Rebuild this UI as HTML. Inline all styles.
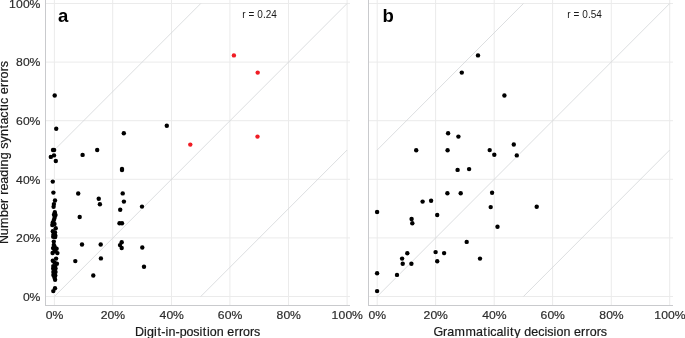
<!DOCTYPE html>
<html><head><meta charset="utf-8"><style>
html,body{margin:0;padding:0;background:#fff;width:685px;height:338px;overflow:hidden}
svg{display:block;position:absolute;left:0;top:0}
.ov{will-change:transform}
text{font-family:"Liberation Sans",sans-serif}
.t{font-size:11.6px;fill:#2b2b2b;stroke:#2b2b2b;stroke-width:0.18px}
.ti{font-size:12px;fill:#1a1a1a;stroke:#1a1a1a;stroke-width:0.2px}
.pl{font-size:18.5px;font-weight:bold;fill:#000}
.r{font-size:10px;fill:#1a1a1a}
</style></head><body>
<svg width="685" height="338" viewBox="0 0 685 338">
<rect width="685" height="338" fill="#fff"/>
<clipPath id="ca"><rect x="45" y="0" width="305" height="305.5"/></clipPath>
<g clip-path="url(#ca)">
<line x1="45" x2="350" y1="296.5" y2="296.5" stroke="#ebebeb" stroke-width="1"/>
<line x1="45" x2="350" y1="237.9" y2="237.9" stroke="#ebebeb" stroke-width="1"/>
<line x1="45" x2="350" y1="179.3" y2="179.3" stroke="#ebebeb" stroke-width="1"/>
<line x1="45" x2="350" y1="120.7" y2="120.7" stroke="#ebebeb" stroke-width="1"/>
<line x1="45" x2="350" y1="62.1" y2="62.1" stroke="#ebebeb" stroke-width="1"/>
<line x1="45" x2="350" y1="3.5" y2="3.5" stroke="#ebebeb" stroke-width="1"/>
<line x1="54.4" x2="54.4" y1="0" y2="305.5" stroke="#ebebeb" stroke-width="1"/>
<line x1="112.7" x2="112.7" y1="0" y2="305.5" stroke="#ebebeb" stroke-width="1"/>
<line x1="171.5" x2="171.5" y1="0" y2="305.5" stroke="#ebebeb" stroke-width="1"/>
<line x1="229.9" x2="229.9" y1="0" y2="305.5" stroke="#ebebeb" stroke-width="1"/>
<line x1="288.5" x2="288.5" y1="0" y2="305.5" stroke="#ebebeb" stroke-width="1"/>
<line x1="347.1" x2="347.1" y1="0" y2="305.5" stroke="#ebebeb" stroke-width="1"/>
<line x1="54.4" y1="150" x2="200.75" y2="3.5" stroke="#d3d5d8" stroke-width="0.8"/>
<line x1="54.4" y1="296.5" x2="347.1" y2="3.5" stroke="#d3d5d8" stroke-width="0.8"/>
<line x1="200.75" y1="296.5" x2="347.1" y2="150" stroke="#d3d5d8" stroke-width="0.8"/>
</g>
<line x1="45.5" x2="45.5" y1="0" y2="306.0" stroke="#c9cacd" stroke-width="1"/>
<line x1="45" x2="350" y1="305.5" y2="305.5" stroke="#c9cacd" stroke-width="1"/>
<clipPath id="cb"><rect x="368" y="0" width="305" height="305.5"/></clipPath>
<g clip-path="url(#cb)">
<line x1="368" x2="673" y1="296.5" y2="296.5" stroke="#ebebeb" stroke-width="1"/>
<line x1="368" x2="673" y1="237.9" y2="237.9" stroke="#ebebeb" stroke-width="1"/>
<line x1="368" x2="673" y1="179.3" y2="179.3" stroke="#ebebeb" stroke-width="1"/>
<line x1="368" x2="673" y1="120.7" y2="120.7" stroke="#ebebeb" stroke-width="1"/>
<line x1="368" x2="673" y1="62.1" y2="62.1" stroke="#ebebeb" stroke-width="1"/>
<line x1="368" x2="673" y1="3.5" y2="3.5" stroke="#ebebeb" stroke-width="1"/>
<line x1="377.2" x2="377.2" y1="0" y2="305.5" stroke="#ebebeb" stroke-width="1"/>
<line x1="435.6" x2="435.6" y1="0" y2="305.5" stroke="#ebebeb" stroke-width="1"/>
<line x1="494.2" x2="494.2" y1="0" y2="305.5" stroke="#ebebeb" stroke-width="1"/>
<line x1="552.6" x2="552.6" y1="0" y2="305.5" stroke="#ebebeb" stroke-width="1"/>
<line x1="611.3" x2="611.3" y1="0" y2="305.5" stroke="#ebebeb" stroke-width="1"/>
<line x1="669.7" x2="669.7" y1="0" y2="305.5" stroke="#ebebeb" stroke-width="1"/>
<line x1="377.2" y1="150" x2="523.45" y2="3.5" stroke="#d3d5d8" stroke-width="0.8"/>
<line x1="377.2" y1="296.5" x2="669.7" y2="3.5" stroke="#d3d5d8" stroke-width="0.8"/>
<line x1="523.45" y1="296.5" x2="669.7" y2="150" stroke="#d3d5d8" stroke-width="0.8"/>
</g>
<line x1="368.5" x2="368.5" y1="0" y2="306.0" stroke="#c9cacd" stroke-width="1"/>
<line x1="368" x2="673" y1="305.5" y2="305.5" stroke="#c9cacd" stroke-width="1"/>
<circle cx="54.7" cy="95.5" r="3.1" fill="#fff"/>
<circle cx="56.2" cy="128.8" r="3.1" fill="#fff"/>
<circle cx="123.8" cy="133.3" r="3.1" fill="#fff"/>
<circle cx="166.8" cy="125.8" r="3.1" fill="#fff"/>
<circle cx="53" cy="150" r="3.1" fill="#fff"/>
<circle cx="54.1" cy="150" r="3.1" fill="#fff"/>
<circle cx="97.2" cy="150" r="3.1" fill="#fff"/>
<circle cx="82.6" cy="154.9" r="3.1" fill="#fff"/>
<circle cx="50.8" cy="156.9" r="3.1" fill="#fff"/>
<circle cx="54" cy="155.4" r="3.1" fill="#fff"/>
<circle cx="55.8" cy="161" r="3.1" fill="#fff"/>
<circle cx="122" cy="169" r="3.1" fill="#fff"/>
<circle cx="122" cy="170.1" r="3.1" fill="#fff"/>
<circle cx="52.8" cy="181.6" r="3.1" fill="#fff"/>
<circle cx="53.4" cy="192.6" r="3.1" fill="#fff"/>
<circle cx="78.2" cy="193.5" r="3.1" fill="#fff"/>
<circle cx="122.7" cy="193.4" r="3.1" fill="#fff"/>
<circle cx="98.75" cy="198.75" r="3.1" fill="#fff"/>
<circle cx="99.9" cy="204.25" r="3.1" fill="#fff"/>
<circle cx="123.9" cy="201.6" r="3.1" fill="#fff"/>
<circle cx="120.2" cy="209.8" r="3.1" fill="#fff"/>
<circle cx="142" cy="206.6" r="3.1" fill="#fff"/>
<circle cx="55" cy="200.5" r="3.1" fill="#fff"/>
<circle cx="53.9" cy="204.1" r="3.1" fill="#fff"/>
<circle cx="53.6" cy="206.7" r="3.1" fill="#fff"/>
<circle cx="79.7" cy="217" r="3.1" fill="#fff"/>
<circle cx="119.5" cy="223.3" r="3.1" fill="#fff"/>
<circle cx="122" cy="223.3" r="3.1" fill="#fff"/>
<circle cx="54.8" cy="212.3" r="3.1" fill="#fff"/>
<circle cx="54" cy="214.8" r="3.1" fill="#fff"/>
<circle cx="55.5" cy="215" r="3.1" fill="#fff"/>
<circle cx="54.6" cy="217.8" r="3.1" fill="#fff"/>
<circle cx="53.9" cy="220" r="3.1" fill="#fff"/>
<circle cx="52.8" cy="222.5" r="3.1" fill="#fff"/>
<circle cx="52.3" cy="225" r="3.1" fill="#fff"/>
<circle cx="54.5" cy="224" r="3.1" fill="#fff"/>
<circle cx="55.7" cy="228.3" r="3.1" fill="#fff"/>
<circle cx="52.8" cy="231.3" r="3.1" fill="#fff"/>
<circle cx="55" cy="232.5" r="3.1" fill="#fff"/>
<circle cx="53.5" cy="234.5" r="3.1" fill="#fff"/>
<circle cx="55.3" cy="235.5" r="3.1" fill="#fff"/>
<circle cx="53.2" cy="236.8" r="3.1" fill="#fff"/>
<circle cx="55.2" cy="237" r="3.1" fill="#fff"/>
<circle cx="53.8" cy="241.6" r="3.1" fill="#fff"/>
<circle cx="53.8" cy="245" r="3.1" fill="#fff"/>
<circle cx="54.5" cy="246.5" r="3.1" fill="#fff"/>
<circle cx="54.5" cy="250" r="3.1" fill="#fff"/>
<circle cx="53.1" cy="248.1" r="3.1" fill="#fff"/>
<circle cx="56.6" cy="248.8" r="3.1" fill="#fff"/>
<circle cx="55.1" cy="251.3" r="3.1" fill="#fff"/>
<circle cx="52.6" cy="253" r="3.1" fill="#fff"/>
<circle cx="57.4" cy="253.1" r="3.1" fill="#fff"/>
<circle cx="56.1" cy="258.6" r="3.1" fill="#fff"/>
<circle cx="52.8" cy="260.8" r="3.1" fill="#fff"/>
<circle cx="54.5" cy="262.5" r="3.1" fill="#fff"/>
<circle cx="56.9" cy="263.8" r="3.1" fill="#fff"/>
<circle cx="53.3" cy="266.1" r="3.1" fill="#fff"/>
<circle cx="55" cy="266.5" r="3.1" fill="#fff"/>
<circle cx="53.2" cy="268.5" r="3.1" fill="#fff"/>
<circle cx="55.5" cy="268.5" r="3.1" fill="#fff"/>
<circle cx="53.4" cy="272" r="3.1" fill="#fff"/>
<circle cx="55.5" cy="272" r="3.1" fill="#fff"/>
<circle cx="53.4" cy="275" r="3.1" fill="#fff"/>
<circle cx="55.3" cy="275.5" r="3.1" fill="#fff"/>
<circle cx="54.5" cy="277.5" r="3.1" fill="#fff"/>
<circle cx="55.1" cy="279.8" r="3.1" fill="#fff"/>
<circle cx="55" cy="288.3" r="3.1" fill="#fff"/>
<circle cx="53.3" cy="291.1" r="3.1" fill="#fff"/>
<circle cx="121.7" cy="242.2" r="3.1" fill="#fff"/>
<circle cx="120" cy="245.1" r="3.1" fill="#fff"/>
<circle cx="121.7" cy="248" r="3.1" fill="#fff"/>
<circle cx="142.3" cy="247.5" r="3.1" fill="#fff"/>
<circle cx="82" cy="244.5" r="3.1" fill="#fff"/>
<circle cx="100.7" cy="244.5" r="3.1" fill="#fff"/>
<circle cx="100.9" cy="258.4" r="3.1" fill="#fff"/>
<circle cx="75.3" cy="261.1" r="3.1" fill="#fff"/>
<circle cx="93.3" cy="275.5" r="3.1" fill="#fff"/>
<circle cx="144" cy="266.7" r="3.1" fill="#fff"/>
<circle cx="233.9" cy="55.4" r="3.1" fill="#fff"/>
<circle cx="257.7" cy="72.6" r="3.1" fill="#fff"/>
<circle cx="190.3" cy="144.6" r="3.1" fill="#fff"/>
<circle cx="257.5" cy="136.6" r="3.1" fill="#fff"/>
<circle cx="478" cy="55.4" r="3.1" fill="#fff"/>
<circle cx="461.8" cy="72.6" r="3.1" fill="#fff"/>
<circle cx="504.4" cy="95.5" r="3.1" fill="#fff"/>
<circle cx="448.1" cy="133.3" r="3.1" fill="#fff"/>
<circle cx="458.4" cy="136.6" r="3.1" fill="#fff"/>
<circle cx="416.2" cy="150.2" r="3.1" fill="#fff"/>
<circle cx="447.6" cy="150.2" r="3.1" fill="#fff"/>
<circle cx="489.7" cy="150.1" r="3.1" fill="#fff"/>
<circle cx="494.3" cy="154.8" r="3.1" fill="#fff"/>
<circle cx="513.8" cy="144.5" r="3.1" fill="#fff"/>
<circle cx="516.8" cy="155.4" r="3.1" fill="#fff"/>
<circle cx="457.6" cy="169.9" r="3.1" fill="#fff"/>
<circle cx="469.1" cy="169.1" r="3.1" fill="#fff"/>
<circle cx="447.4" cy="193.3" r="3.1" fill="#fff"/>
<circle cx="460.7" cy="193.3" r="3.1" fill="#fff"/>
<circle cx="492.1" cy="192.7" r="3.1" fill="#fff"/>
<circle cx="490.7" cy="207.1" r="3.1" fill="#fff"/>
<circle cx="536.7" cy="206.7" r="3.1" fill="#fff"/>
<circle cx="422.6" cy="201.6" r="3.1" fill="#fff"/>
<circle cx="431.1" cy="200.8" r="3.1" fill="#fff"/>
<circle cx="437.2" cy="215" r="3.1" fill="#fff"/>
<circle cx="377.1" cy="212" r="3.1" fill="#fff"/>
<circle cx="411.6" cy="219" r="3.1" fill="#fff"/>
<circle cx="412.3" cy="223.3" r="3.1" fill="#fff"/>
<circle cx="497.5" cy="226.7" r="3.1" fill="#fff"/>
<circle cx="466.7" cy="241.9" r="3.1" fill="#fff"/>
<circle cx="407.3" cy="253.2" r="3.1" fill="#fff"/>
<circle cx="435.6" cy="252.1" r="3.1" fill="#fff"/>
<circle cx="444.1" cy="253.1" r="3.1" fill="#fff"/>
<circle cx="402.1" cy="258.6" r="3.1" fill="#fff"/>
<circle cx="402.7" cy="263.8" r="3.1" fill="#fff"/>
<circle cx="411.4" cy="263.8" r="3.1" fill="#fff"/>
<circle cx="437.2" cy="261.3" r="3.1" fill="#fff"/>
<circle cx="480" cy="258.6" r="3.1" fill="#fff"/>
<circle cx="377.1" cy="273.3" r="3.1" fill="#fff"/>
<circle cx="397" cy="274.9" r="3.1" fill="#fff"/>
<circle cx="377.1" cy="291.1" r="3.1" fill="#fff"/>
<circle cx="54.7" cy="95.5" r="2.2" fill="#000"/>
<circle cx="56.2" cy="128.8" r="2.2" fill="#000"/>
<circle cx="123.8" cy="133.3" r="2.2" fill="#000"/>
<circle cx="166.8" cy="125.8" r="2.2" fill="#000"/>
<circle cx="53" cy="150" r="2.2" fill="#000"/>
<circle cx="54.1" cy="150" r="2.2" fill="#000"/>
<circle cx="97.2" cy="150" r="2.2" fill="#000"/>
<circle cx="82.6" cy="154.9" r="2.2" fill="#000"/>
<circle cx="50.8" cy="156.9" r="2.2" fill="#000"/>
<circle cx="54" cy="155.4" r="2.2" fill="#000"/>
<circle cx="55.8" cy="161" r="2.2" fill="#000"/>
<circle cx="122" cy="169" r="2.2" fill="#000"/>
<circle cx="122" cy="170.1" r="2.2" fill="#000"/>
<circle cx="52.8" cy="181.6" r="2.2" fill="#000"/>
<circle cx="53.4" cy="192.6" r="2.2" fill="#000"/>
<circle cx="78.2" cy="193.5" r="2.2" fill="#000"/>
<circle cx="122.7" cy="193.4" r="2.2" fill="#000"/>
<circle cx="98.75" cy="198.75" r="2.2" fill="#000"/>
<circle cx="99.9" cy="204.25" r="2.2" fill="#000"/>
<circle cx="123.9" cy="201.6" r="2.2" fill="#000"/>
<circle cx="120.2" cy="209.8" r="2.2" fill="#000"/>
<circle cx="142" cy="206.6" r="2.2" fill="#000"/>
<circle cx="55" cy="200.5" r="2.2" fill="#000"/>
<circle cx="53.9" cy="204.1" r="2.2" fill="#000"/>
<circle cx="53.6" cy="206.7" r="2.2" fill="#000"/>
<circle cx="79.7" cy="217" r="2.2" fill="#000"/>
<circle cx="119.5" cy="223.3" r="2.2" fill="#000"/>
<circle cx="122" cy="223.3" r="2.2" fill="#000"/>
<circle cx="54.8" cy="212.3" r="2.2" fill="#000"/>
<circle cx="54" cy="214.8" r="2.2" fill="#000"/>
<circle cx="55.5" cy="215" r="2.2" fill="#000"/>
<circle cx="54.6" cy="217.8" r="2.2" fill="#000"/>
<circle cx="53.9" cy="220" r="2.2" fill="#000"/>
<circle cx="52.8" cy="222.5" r="2.2" fill="#000"/>
<circle cx="52.3" cy="225" r="2.2" fill="#000"/>
<circle cx="54.5" cy="224" r="2.2" fill="#000"/>
<circle cx="55.7" cy="228.3" r="2.2" fill="#000"/>
<circle cx="52.8" cy="231.3" r="2.2" fill="#000"/>
<circle cx="55" cy="232.5" r="2.2" fill="#000"/>
<circle cx="53.5" cy="234.5" r="2.2" fill="#000"/>
<circle cx="55.3" cy="235.5" r="2.2" fill="#000"/>
<circle cx="53.2" cy="236.8" r="2.2" fill="#000"/>
<circle cx="55.2" cy="237" r="2.2" fill="#000"/>
<circle cx="53.8" cy="241.6" r="2.2" fill="#000"/>
<circle cx="53.8" cy="245" r="2.2" fill="#000"/>
<circle cx="54.5" cy="246.5" r="2.2" fill="#000"/>
<circle cx="54.5" cy="250" r="2.2" fill="#000"/>
<circle cx="53.1" cy="248.1" r="2.2" fill="#000"/>
<circle cx="56.6" cy="248.8" r="2.2" fill="#000"/>
<circle cx="55.1" cy="251.3" r="2.2" fill="#000"/>
<circle cx="52.6" cy="253" r="2.2" fill="#000"/>
<circle cx="57.4" cy="253.1" r="2.2" fill="#000"/>
<circle cx="56.1" cy="258.6" r="2.2" fill="#000"/>
<circle cx="52.8" cy="260.8" r="2.2" fill="#000"/>
<circle cx="54.5" cy="262.5" r="2.2" fill="#000"/>
<circle cx="56.9" cy="263.8" r="2.2" fill="#000"/>
<circle cx="53.3" cy="266.1" r="2.2" fill="#000"/>
<circle cx="55" cy="266.5" r="2.2" fill="#000"/>
<circle cx="53.2" cy="268.5" r="2.2" fill="#000"/>
<circle cx="55.5" cy="268.5" r="2.2" fill="#000"/>
<circle cx="53.4" cy="272" r="2.2" fill="#000"/>
<circle cx="55.5" cy="272" r="2.2" fill="#000"/>
<circle cx="53.4" cy="275" r="2.2" fill="#000"/>
<circle cx="55.3" cy="275.5" r="2.2" fill="#000"/>
<circle cx="54.5" cy="277.5" r="2.2" fill="#000"/>
<circle cx="55.1" cy="279.8" r="2.2" fill="#000"/>
<circle cx="55" cy="288.3" r="2.2" fill="#000"/>
<circle cx="53.3" cy="291.1" r="2.2" fill="#000"/>
<circle cx="121.7" cy="242.2" r="2.2" fill="#000"/>
<circle cx="120" cy="245.1" r="2.2" fill="#000"/>
<circle cx="121.7" cy="248" r="2.2" fill="#000"/>
<circle cx="142.3" cy="247.5" r="2.2" fill="#000"/>
<circle cx="82" cy="244.5" r="2.2" fill="#000"/>
<circle cx="100.7" cy="244.5" r="2.2" fill="#000"/>
<circle cx="100.9" cy="258.4" r="2.2" fill="#000"/>
<circle cx="75.3" cy="261.1" r="2.2" fill="#000"/>
<circle cx="93.3" cy="275.5" r="2.2" fill="#000"/>
<circle cx="144" cy="266.7" r="2.2" fill="#000"/>
<circle cx="233.9" cy="55.4" r="2.2" fill="#f01c24"/>
<circle cx="257.7" cy="72.6" r="2.2" fill="#f01c24"/>
<circle cx="190.3" cy="144.6" r="2.2" fill="#f01c24"/>
<circle cx="257.5" cy="136.6" r="2.2" fill="#f01c24"/>
<circle cx="478" cy="55.4" r="2.2" fill="#000"/>
<circle cx="461.8" cy="72.6" r="2.2" fill="#000"/>
<circle cx="504.4" cy="95.5" r="2.2" fill="#000"/>
<circle cx="448.1" cy="133.3" r="2.2" fill="#000"/>
<circle cx="458.4" cy="136.6" r="2.2" fill="#000"/>
<circle cx="416.2" cy="150.2" r="2.2" fill="#000"/>
<circle cx="447.6" cy="150.2" r="2.2" fill="#000"/>
<circle cx="489.7" cy="150.1" r="2.2" fill="#000"/>
<circle cx="494.3" cy="154.8" r="2.2" fill="#000"/>
<circle cx="513.8" cy="144.5" r="2.2" fill="#000"/>
<circle cx="516.8" cy="155.4" r="2.2" fill="#000"/>
<circle cx="457.6" cy="169.9" r="2.2" fill="#000"/>
<circle cx="469.1" cy="169.1" r="2.2" fill="#000"/>
<circle cx="447.4" cy="193.3" r="2.2" fill="#000"/>
<circle cx="460.7" cy="193.3" r="2.2" fill="#000"/>
<circle cx="492.1" cy="192.7" r="2.2" fill="#000"/>
<circle cx="490.7" cy="207.1" r="2.2" fill="#000"/>
<circle cx="536.7" cy="206.7" r="2.2" fill="#000"/>
<circle cx="422.6" cy="201.6" r="2.2" fill="#000"/>
<circle cx="431.1" cy="200.8" r="2.2" fill="#000"/>
<circle cx="437.2" cy="215" r="2.2" fill="#000"/>
<circle cx="377.1" cy="212" r="2.2" fill="#000"/>
<circle cx="411.6" cy="219" r="2.2" fill="#000"/>
<circle cx="412.3" cy="223.3" r="2.2" fill="#000"/>
<circle cx="497.5" cy="226.7" r="2.2" fill="#000"/>
<circle cx="466.7" cy="241.9" r="2.2" fill="#000"/>
<circle cx="407.3" cy="253.2" r="2.2" fill="#000"/>
<circle cx="435.6" cy="252.1" r="2.2" fill="#000"/>
<circle cx="444.1" cy="253.1" r="2.2" fill="#000"/>
<circle cx="402.1" cy="258.6" r="2.2" fill="#000"/>
<circle cx="402.7" cy="263.8" r="2.2" fill="#000"/>
<circle cx="411.4" cy="263.8" r="2.2" fill="#000"/>
<circle cx="437.2" cy="261.3" r="2.2" fill="#000"/>
<circle cx="480" cy="258.6" r="2.2" fill="#000"/>
<circle cx="377.1" cy="273.3" r="2.2" fill="#000"/>
<circle cx="397" cy="274.9" r="2.2" fill="#000"/>
<circle cx="377.1" cy="291.1" r="2.2" fill="#000"/>
</svg><svg class="ov" width="685" height="338" viewBox="0 0 685 338">
<text class="t" transform="scale(1.0500,1)" x="21.89 28.20" y="300.8" style="font-size:11.6px">0%</text>
<text class="t" transform="scale(1.0500,1)" x="15.29 21.89 28.20" y="242.2" style="font-size:11.6px">20%</text>
<text class="t" transform="scale(1.0500,1)" x="15.29 21.89 28.20" y="183.6" style="font-size:11.6px">40%</text>
<text class="t" transform="scale(1.0500,1)" x="15.29 21.89 28.20" y="125" style="font-size:11.6px">60%</text>
<text class="t" transform="scale(1.0500,1)" x="15.29 21.89 28.20" y="66.4" style="font-size:11.6px">80%</text>
<text class="t" transform="scale(1.0500,1)" x="8.68 15.29 21.89 28.20" y="7.8" style="font-size:11.6px">100%</text>
<text class="t" transform="scale(1.0500,1)" x="43.65 49.95" y="319.2" style="font-size:11.6px">0%</text>
<text class="t" transform="scale(1.0500,1)" x="95.87 102.48 108.78" y="319.2" style="font-size:11.6px">20%</text>
<text class="t" transform="scale(1.0500,1)" x="151.87 158.48 164.78" y="319.2" style="font-size:11.6px">40%</text>
<text class="t" transform="scale(1.0500,1)" x="207.49 214.10 220.40" y="319.2" style="font-size:11.6px">60%</text>
<text class="t" transform="scale(1.0500,1)" x="263.30 269.91 276.21" y="319.2" style="font-size:11.6px">80%</text>
<text class="t" transform="scale(1.0500,1)" x="315.81 322.41 329.02 335.32" y="319.2" style="font-size:11.6px">100%</text>
<text class="t" transform="scale(1.0500,1)" x="351.08 357.38" y="319.2" style="font-size:11.6px">0%</text>
<text class="t" transform="scale(1.0500,1)" x="403.40 410.00 416.30" y="319.2" style="font-size:11.6px">20%</text>
<text class="t" transform="scale(1.0500,1)" x="459.21 465.81 472.11" y="319.2" style="font-size:11.6px">40%</text>
<text class="t" transform="scale(1.0500,1)" x="514.83 521.43 527.73" y="319.2" style="font-size:11.6px">60%</text>
<text class="t" transform="scale(1.0500,1)" x="570.73 577.34 583.64" y="319.2" style="font-size:11.6px">80%</text>
<text class="t" transform="scale(1.0500,1)" x="623.05 629.65 636.26 642.56" y="319.2" style="font-size:11.6px">100%</text>
<text class="ti" transform="scale(1.0500,1)" x="128.53 137.07 139.93 146.76 149.98 153.65 157.70 160.56 167.17 171.12 177.74 184.09 189.99 193.21 197.10 199.84 206.45 213.16 216.46 223.23 227.51 231.40 238.04 242.00" y="335.7" style="font-size:11.9px">Digit-in-position errors</text>
<text class="ti" transform="scale(1.0500,1)" x="412.92 421.89 426.02 432.84 443.23 453.34 460.36 464.26 467.02 472.89 479.62 482.59 485.83 489.75 495.93 499.35 506.02 512.57 518.63 521.24 527.16 529.91 536.56 543.29 546.61 553.41 557.70 561.62 568.28 572.26" y="335.7" style="font-size:11.9px">Grammaticality decision errors</text>
<text class="ti" transform="translate(8.0,152.4) rotate(-90) scale(1.0500,1)" x="-87.25 -78.86 -71.89 -61.62 -54.93 -48.10 -43.87 -40.29 -36.24 -29.78 -23.09 -16.22 -13.32 -6.52 0.24 3.41 9.37 15.60 22.75 26.48 33.04 39.41 43.33 46.11 52.08 55.42 62.25 66.56 70.50 77.19 81.19" y="0" style="font-size:11.9px">Number reading syntactic errors</text>
<text x="58.1" y="22.0" class="pl">a</text>
<text x="382.6" y="22.1" class="pl">b</text>
<text x="242.3" y="18.1" class="r" textLength="34.6" lengthAdjust="spacing">r = 0.24</text>
<text x="567.3" y="18.1" class="r" textLength="34.6" lengthAdjust="spacing">r = 0.54</text>
</svg>
</body></html>
